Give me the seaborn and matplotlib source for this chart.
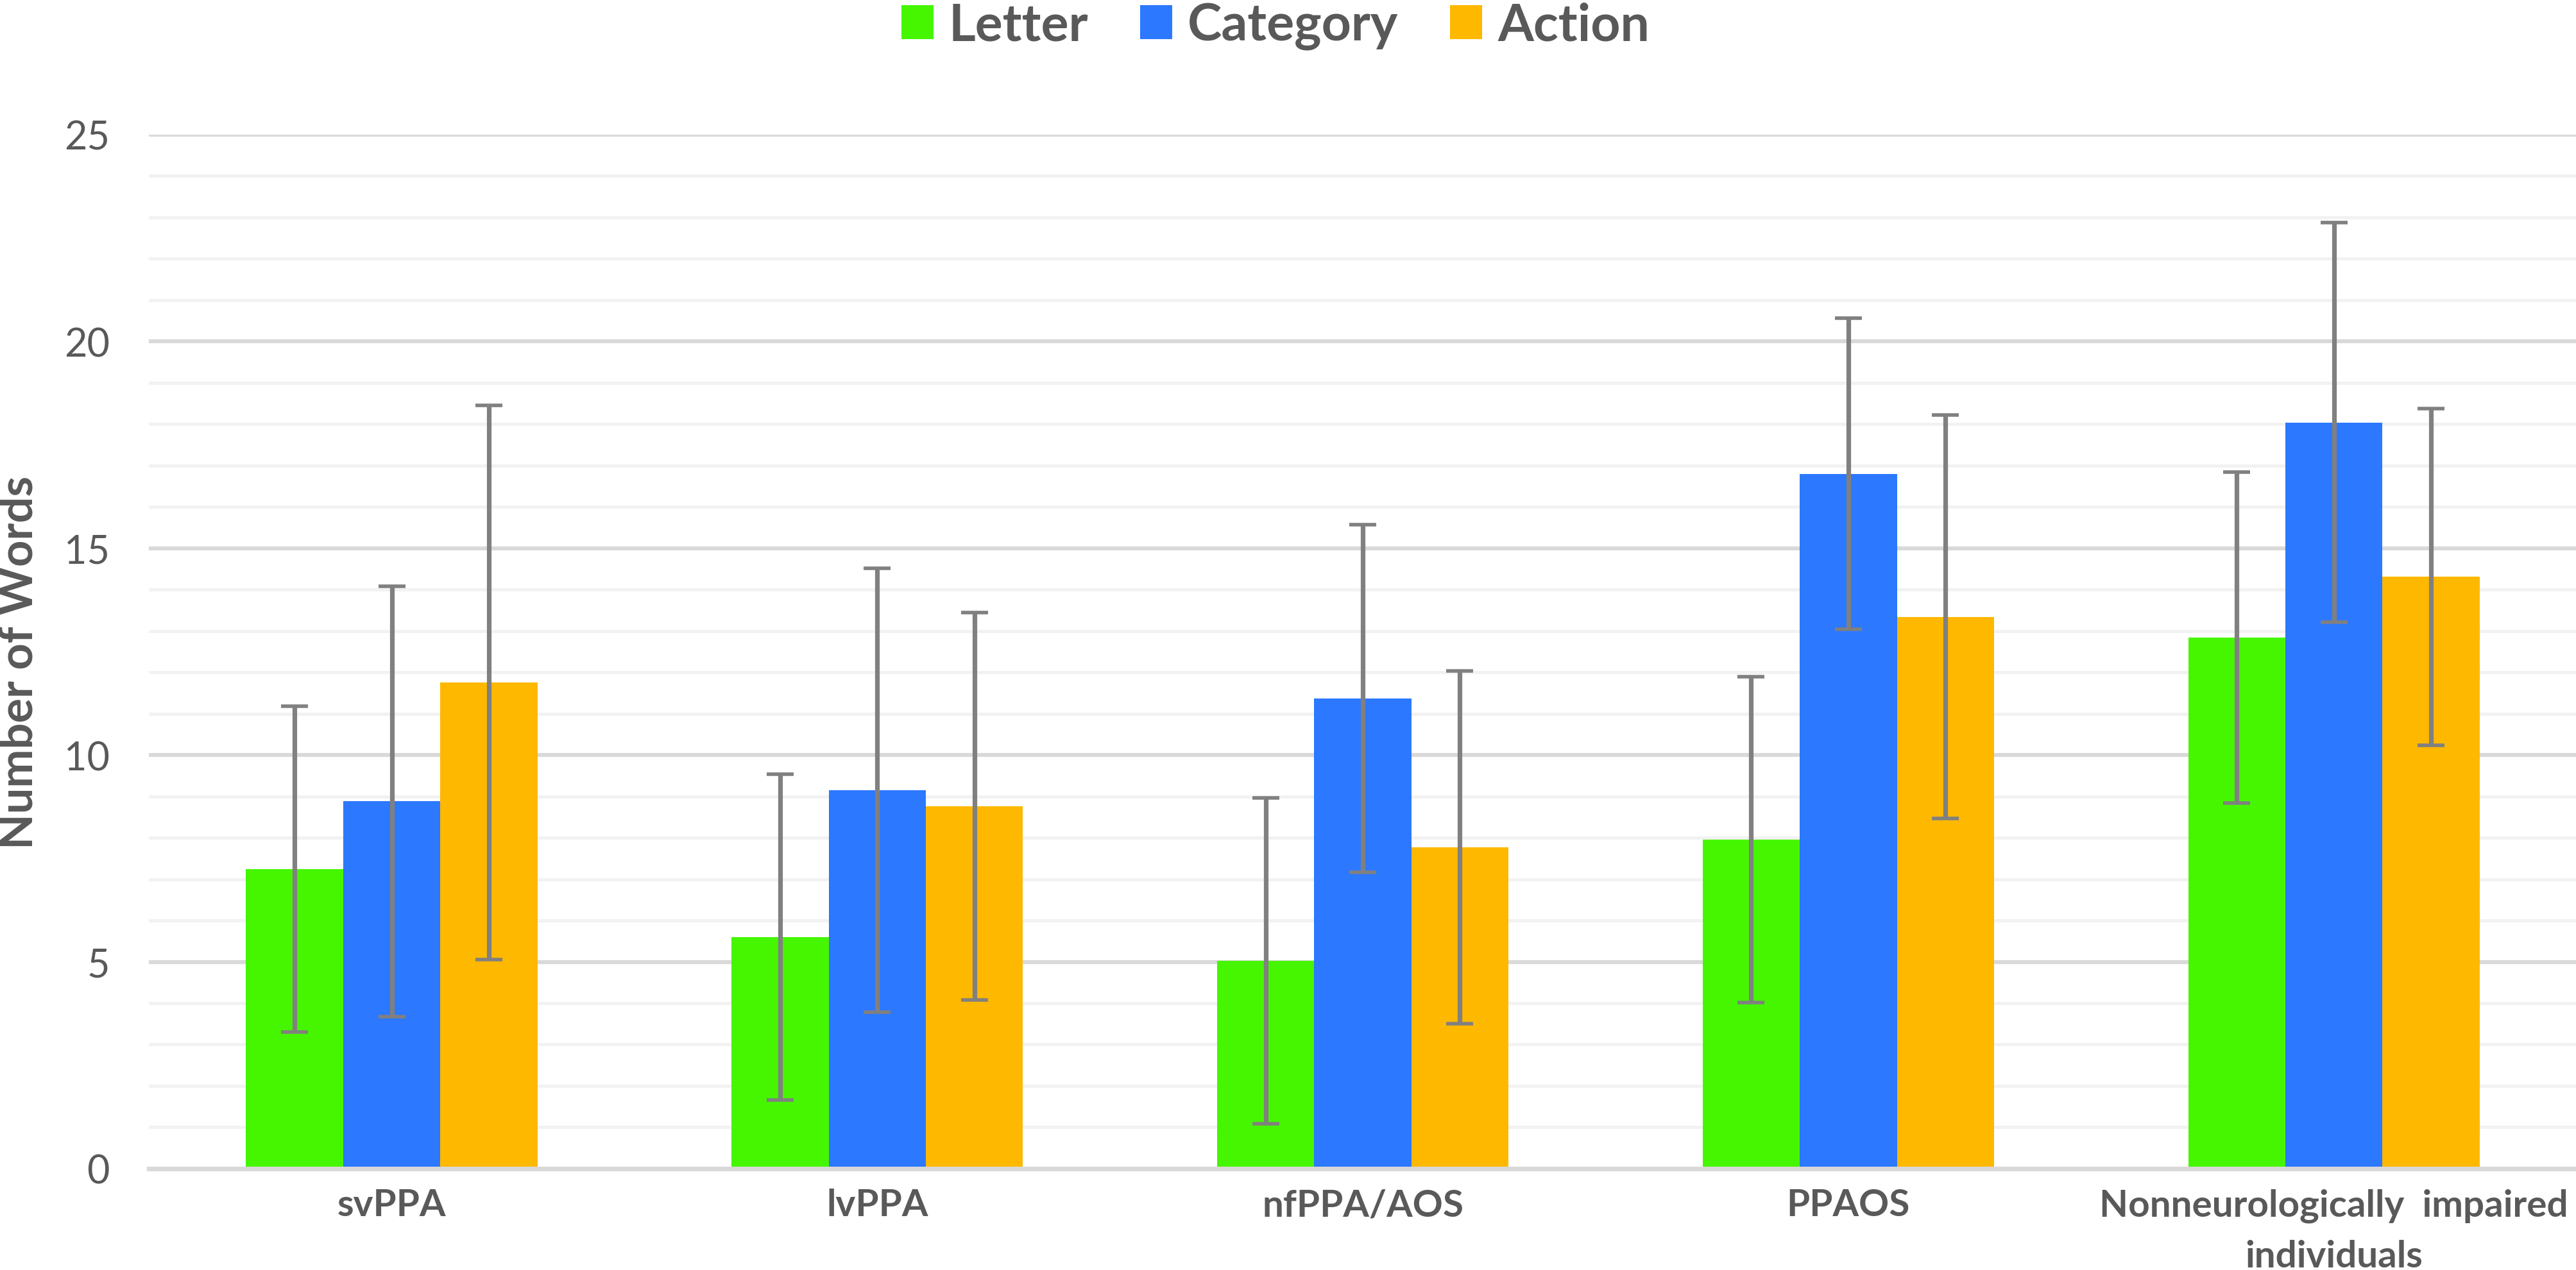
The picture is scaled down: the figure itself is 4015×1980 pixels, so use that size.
import numpy as np
import pandas as pd
import matplotlib
matplotlib.use("Agg")
import matplotlib.pyplot as plt
from matplotlib.ticker import MultipleLocator
import seaborn as sns

# values
groups = ["svPPA", "lvPPA", "nfPPA/AOS", "PPAOS", "Nonneurologically  impaired\nindividuals"]
tasks = ["Letter", "Category", "Action"]
letter_mean = [7.24, 5.60, 5.02, 7.95, 12.84]
letter_sd = [3.94, 3.94, 3.94, 3.94, 4.00]
category_mean = [8.88, 9.15, 11.37, 16.80, 18.04]
category_sd = [5.20, 5.36, 4.20, 3.76, 4.83]
action_mean = [11.76, 8.76, 7.77, 13.34, 14.31]
action_sd = [6.70, 4.69, 4.26, 4.88, 4.07]
colors = ["#45F600", "#2C78FF", "#FFB800"]

df = pd.DataFrame({
    "group": groups * 3,
    "task": [t for t in tasks for _ in groups],
    "mean": letter_mean + category_mean + action_mean,
    "sd": letter_sd + category_sd + action_sd,
})

sns.set_theme(style="white")
plt.rcParams["font.family"] = ["Lato", "DejaVu Sans"]
text_col = "#595959"

fig = plt.figure(figsize=(20.08, 9.905), dpi=200)
ax = fig.add_axes([0.0578, 0.0798, 0.9422, 0.8137])

sns.barplot(data=df, x="group", y="mean", hue="task", palette=colors,
            width=0.6, gap=0, saturation=1, errorbar=None, linewidth=0, ax=ax)

# error bars from the sd columns, placed on the drawn bars
for cont, task in zip(ax.containers, tasks):
    sub = df[df["task"] == task]
    xs = [p.get_x() + p.get_width() / 2 for p in cont.patches]
    ax.errorbar(xs, sub["mean"].values, yerr=sub["sd"].values, fmt="none",
                ecolor="#808080", elinewidth=2.6, capsize=7.5, capthick=2.0, zorder=5)

ax.set_xlim(-0.5, 4.5)
ax.set_ylim(0, 25)
ax.yaxis.set_major_locator(MultipleLocator(5))
ax.yaxis.set_minor_locator(MultipleLocator(1))
ax.set_axisbelow(True)
ax.grid(which="major", axis="y", color="#D9D9D9", lw=2.2)
ax.grid(which="minor", axis="y", color="#F2F2F2", lw=1.8)
ax.grid(False, axis="x")
for s in ["top", "right", "left"]:
    ax.spines[s].set_visible(False)
ax.spines["bottom"].set_color("#D9D9D9")
ax.spines["bottom"].set_linewidth(2.6)

ax.tick_params(axis="y", which="both", length=0, pad=22, labelsize=22, labelcolor=text_col)
ax.tick_params(axis="x", length=0, pad=11, labelsize=21, labelcolor=text_col)
for lab in ax.get_xticklabels():
    lab.set_fontweight("bold")
    lab.set_linespacing(1.6)
ax.set_xlabel("")
ax.set_ylabel("")
fig.text(0.0075, 0.4785, "Number of Words", rotation=90, ha="center", va="center",
         fontsize=26, fontweight="bold", color=text_col)

handles, labels = ax.get_legend_handles_labels()
ax.get_legend().remove()
fig.legend(handles, labels, loc="center", bbox_to_anchor=(0.495, 0.979), ncol=3,
           frameon=False, handlelength=0.62, handleheight=0.62,
           handletextpad=0.3, columnspacing=1.0, labelcolor=text_col,
           prop={"weight": "bold", "size": 29})

fig.savefig("out.png", dpi=200, facecolor="white")
